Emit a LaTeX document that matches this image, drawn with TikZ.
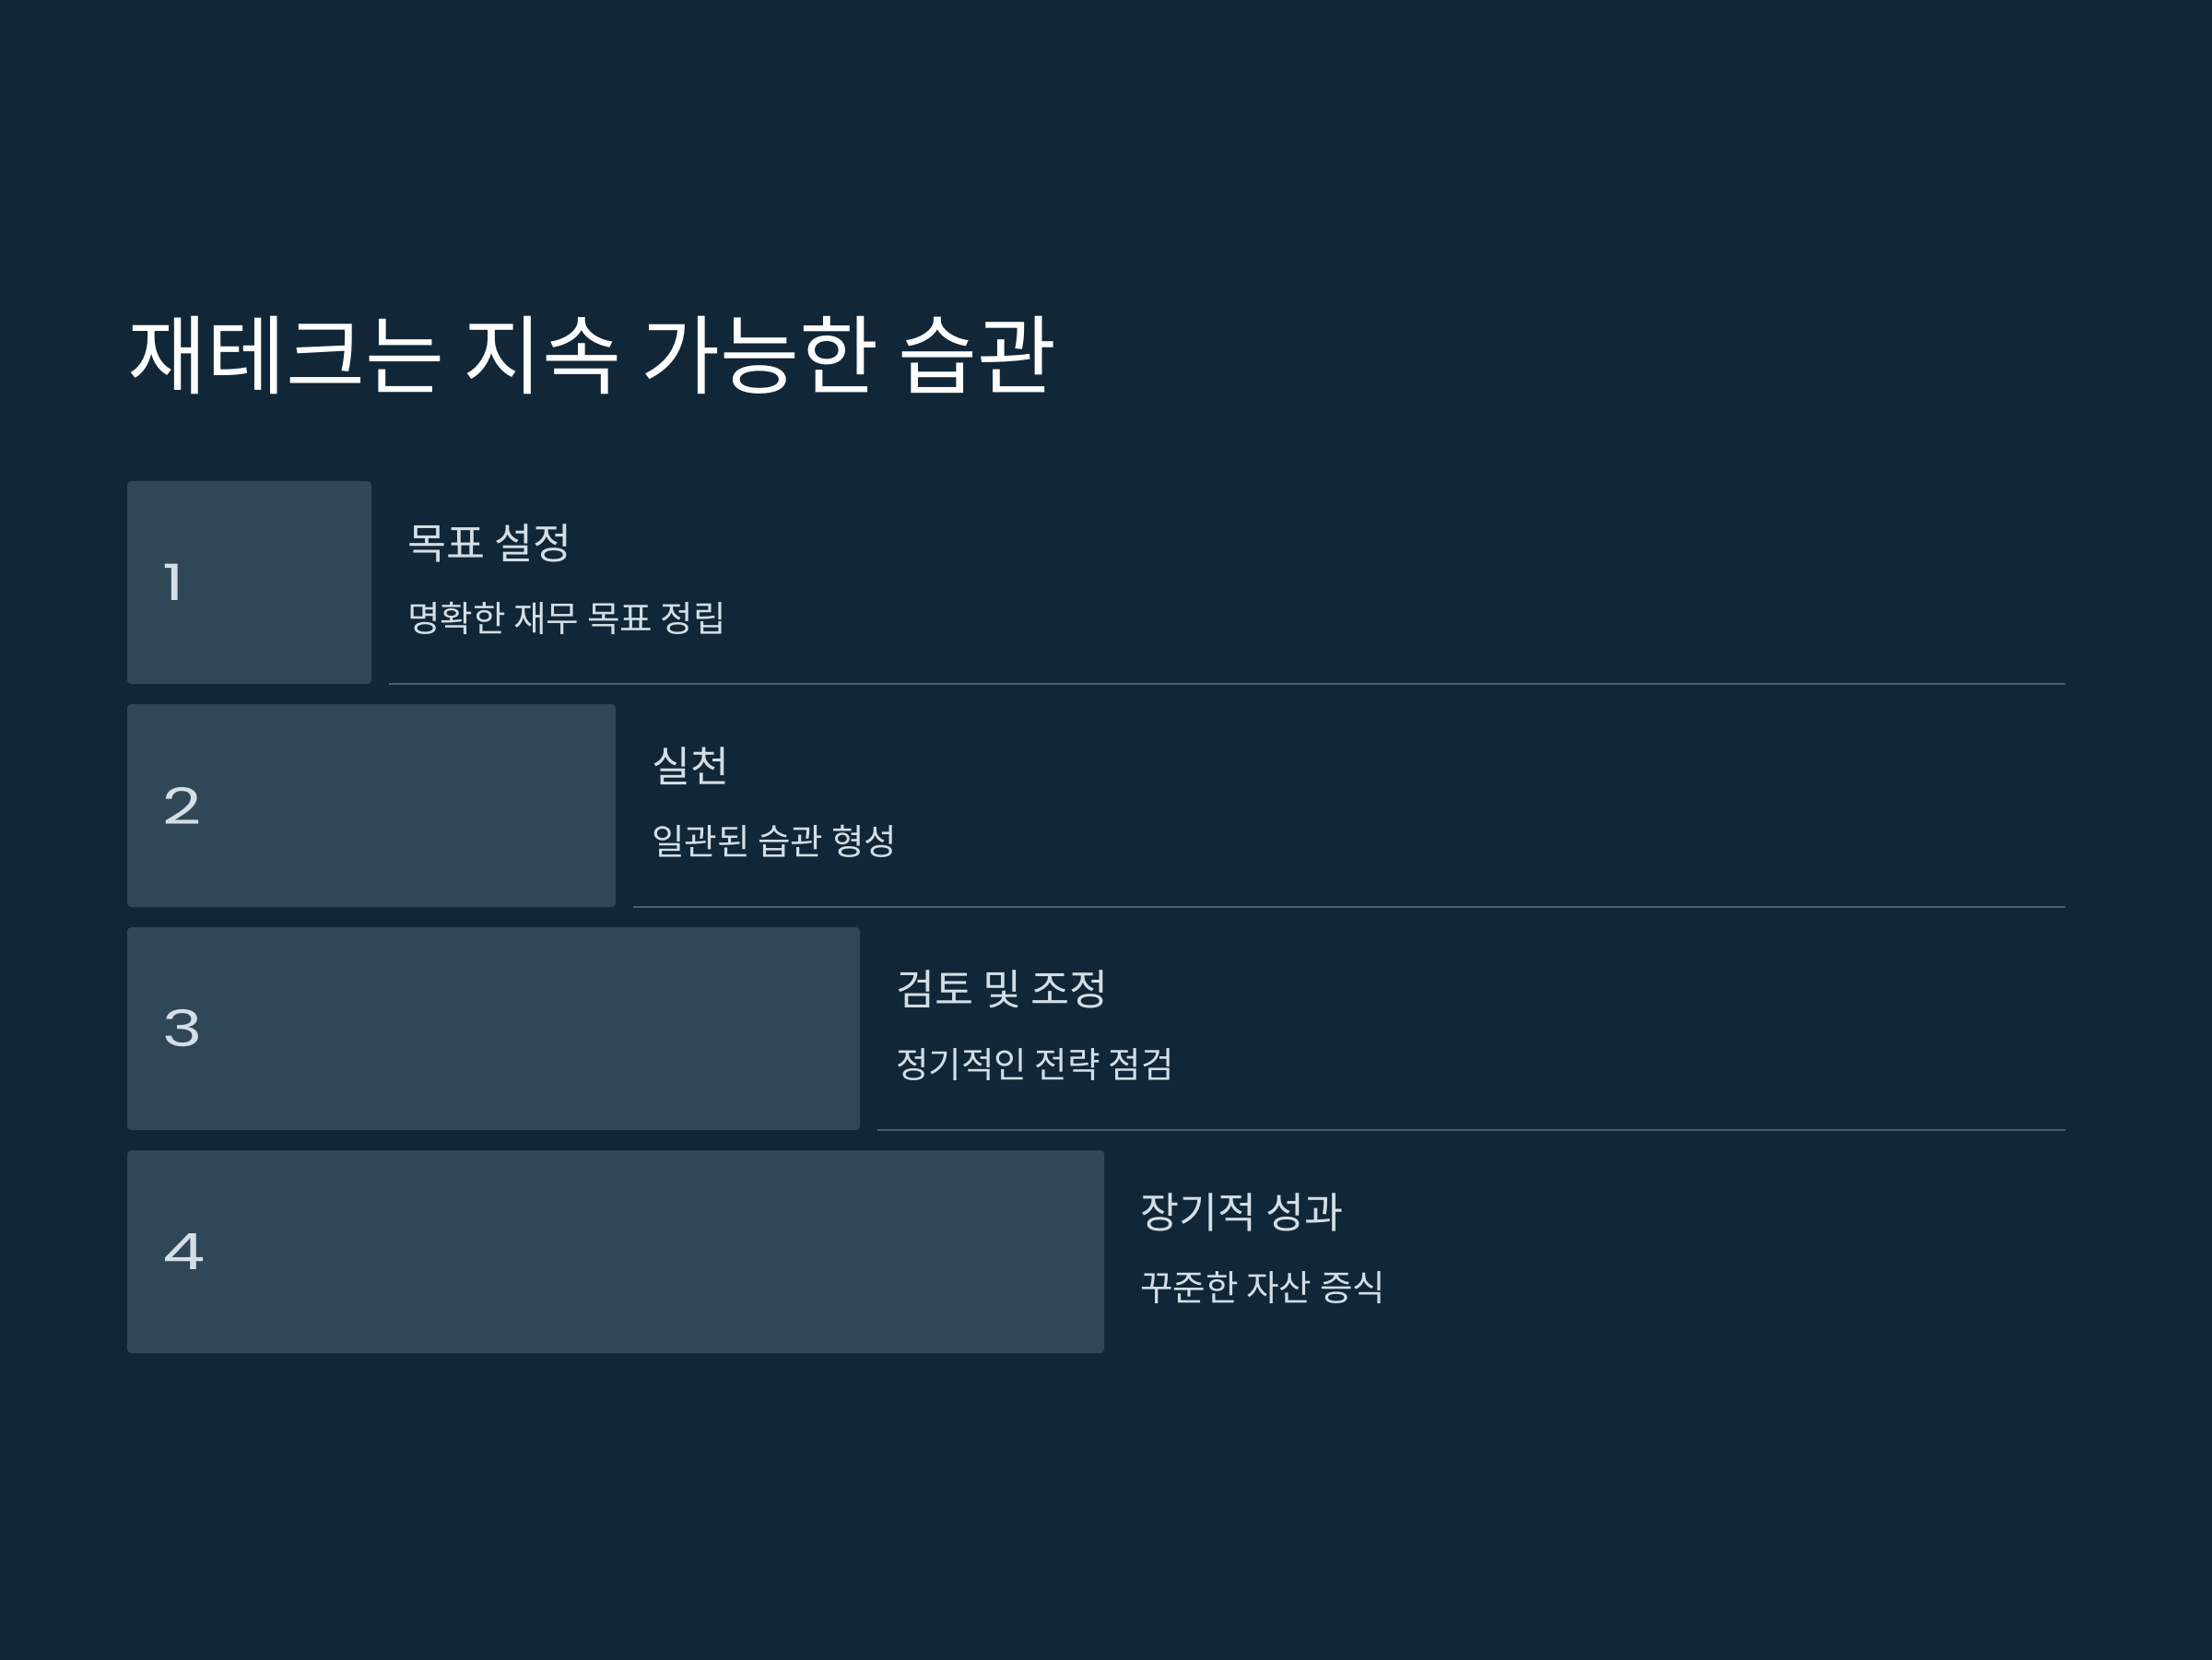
\documentclass[tikz,border=0pt]{standalone}
\usepackage{fontspec}
\setmainfont{Noto Sans CJK KR}
\newfontfamily\numfont[FakeStretch=1.35]{Poppins}
\usetikzlibrary{calc, positioning}
\definecolor{bgnavy}{HTML}{112737}
\definecolor{boxslate}{HTML}{2F4756}
\definecolor{textpale}{HTML}{D3DEE6}
\definecolor{rulegrey}{HTML}{4A5E6C}

\begin{document}
\begin{tikzpicture}[x=1cm, y=1cm]
				\useasboundingbox (0,0) rectangle (24,-18);
				\fill[bgnavy] (-0.2,0.2) rectangle (24.2,-18.2);
				\begin{scope}[every node/.style={inner sep=0, outer sep=0},
					stepbox/.style={fill=boxslate, rounded corners=1.2pt, minimum height=2.2cm, anchor=north west},
					numtext/.style={text=textpale, anchor=west, font=\numfont\fontsize{15.5pt}{18pt}\selectfont},
					headtext/.style={text=textpale, anchor=west, font=\fontsize{13pt}{15pt}\selectfont},
					subtext/.style={text=textpale, anchor=west, font=\fontsize{11pt}{13pt}\selectfont},
					sep/.style={draw=rulegrey, line width=0.6pt}]
				\node[anchor=west, text=white, font=\fontsize{26.6pt}{32pt}\selectfont] (title) at (1.38,-3.85) {재테크는 지속 가능한 습관};
				
				\node[stepbox, minimum width=2.65cm] (b1) at (1.38,-5.22) {};
				\node[stepbox, minimum width=5.30cm] (b2) at (1.38,-7.64) {};
				\node[stepbox, minimum width=7.95cm] (b3) at (1.38,-10.06) {};
				\node[stepbox, minimum width=10.60cm] (b4) at (1.38,-12.48) {};
				
				\node[numtext] (n1) at ($(b1.west)+(0.38,0)$) {1};
				\node[numtext] (n2) at ($(b2.west)+(0.38,0)$) {2};
				\node[numtext] (n3) at ($(b3.west)+(0.38,0)$) {3};
				\node[numtext] (n4) at ($(b4.west)+(0.38,0)$) {4};
				
				\node[headtext] (h1) at ($(b1.north east)+(0.39,-0.67)$) {목표 설정};
				\node[subtext] (s1) at ($(b1.north east)+(0.39,-1.49)$) {명확한 재무 목표 정립};
				\node[headtext] (h2) at ($(b2.north east)+(0.39,-0.67)$) {실천};
				\node[subtext] (s2) at ($(b2.north east)+(0.39,-1.49)$) {일관된 습관 형성};
				\node[headtext] (h3) at ($(b3.north east)+(0.39,-0.67)$) {검토 및 조정};
				\node[subtext] (s3) at ($(b3.north east)+(0.39,-1.49)$) {정기적인 전략 점검};
				\node[headtext] (h4) at ($(b4.north east)+(0.39,-0.67)$) {장기적 성과};
				\node[subtext] (s4) at ($(b4.north east)+(0.39,-1.49)$) {꾸준한 자산 증식};
				
				\coordinate (a1) at ($(b1.south east)+(0.19,0)$);
				\coordinate (a2) at ($(b2.south east)+(0.19,0)$);
				\coordinate (a3) at ($(b3.south east)+(0.19,0)$);
				\coordinate (e1) at (22.41,0 |- a1);
				\coordinate (e2) at (22.41,0 |- a2);
				\coordinate (e3) at (22.41,0 |- a3);
				\draw[sep] (a1) -- (e1);
				\draw[sep] (a2) -- (e2);
				\draw[sep] (a3) -- (e3);
				\end{scope}
\end{tikzpicture}
\end{document}
